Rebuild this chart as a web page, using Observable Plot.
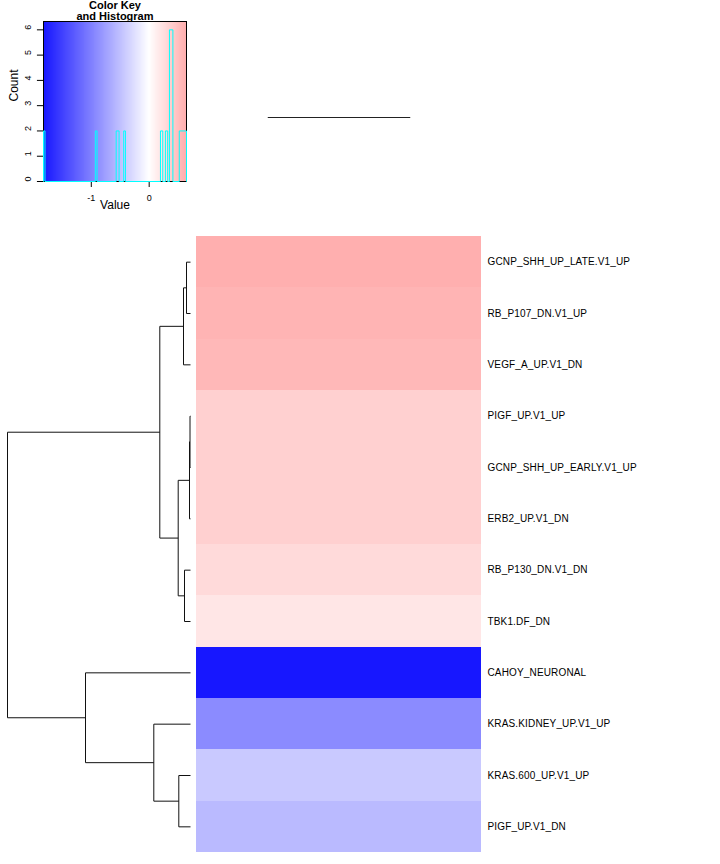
<!DOCTYPE html>
<html><head><meta charset="utf-8">
<script src="https://cdn.jsdelivr.net/npm/d3@7"></script>
<script src="https://cdn.jsdelivr.net/npm/@observablehq/plot@0.6"></script>
<style>
body{margin:0;background:#fff;}
#wrap{position:relative;width:720px;height:864px;overflow:hidden;font-family:"Liberation Sans",Arial,sans-serif;}
#wrap > svg, #wrap > figure{position:absolute;margin:0;}
</style></head><body><div id="wrap"></div>
<script>
// ---- data ----
const rows = ["GCNP_SHH_UP_LATE.V1_UP","RB_P107_DN.V1_UP","VEGF_A_UP.V1_DN","PIGF_UP.V1_UP",
  "GCNP_SHH_UP_EARLY.V1_UP","ERB2_UP.V1_DN","RB_P130_DN.V1_DN","TBK1.DF_DN",
  "CAHOY_NEURONAL","KRAS.KIDNEY_UP.V1_UP","KRAS.600_UP.V1_UP","PIGF_UP.V1_DN"];
const columns = ["1","2"];
const rowValues = [0.63,0.59,0.56,0.37,0.37,0.37,0.29,0.20,-1.82,-0.91,-0.42,-0.54];

// row dendrogram, hclust-style merge table (negative = leaf index, positive = earlier merge)
const mergeLeft   = [-1, 1, -4, 3, -7, 4, 2, -11, -10, -9, 7];
const mergeRight  = [-2, -3, -5, -6, -8, 5, 6, -12, 8, 9, 10];
const mergeHeight = [0.04, 0.07, 0.005, 0.01, 0.06, 0.123, 0.307, 0.117, 0.367, 1.05, 1.83];
// column dendrogram: the two columns merge at height 0
const colMergeHeight = [0];

// colour key + histogram
const keyRange = [-1.826, 0.645];
const histX0 = [-1.826, -0.93, -0.57, -0.44, 0.195, 0.28, 0.35, 0.52];
const histX1 = [-1.80, -0.90, -0.52, -0.41, 0.235, 0.32, 0.41, 0.645];
const histCount = [2, 2, 2, 2, 2, 2, 6, 2];
const countTicks = [0,1,2,3,4,5,6];
const valueTicks = [-1, 0];

const colorOpts = {type: "linear", domain: [-2, 0, 2], range: ["#0000ff", "#ffffff", "#ff0000"], interpolate: "rgb"};
const FONT = '"Liberation Sans", Arial, sans-serif';
const wrap = document.getElementById("wrap");
function place(el, left, top){ el.style.left = left + "px"; el.style.top = top + "px"; wrap.appendChild(el); }

// ---------- colour key ----------
const nSteps = 300;
const stepW = (keyRange[1]-keyRange[0])/nSteps;
const keySteps = d3.range(nSteps).map(i => keyRange[0] + i*stepW);
const histPts = [{x: keyRange[0], c: 0}];
histX0.forEach((x0, i) => {
  histPts.push({x: x0, c: 0}, {x: x0, c: histCount[i]}, {x: histX1[i], c: histCount[i]}, {x: histX1[i], c: 0});
});
histPts.push({x: keyRange[1], c: 0});

const key = Plot.plot({
  width: 200, height: 220,
  marginLeft: 43, marginRight: 14, marginTop: 21, marginBottom: 39,
  style: {fontFamily: FONT, fontSize: "9px", background: "transparent", overflow: "visible"},
  x: {domain: keyRange, ticks: valueTicks, tickFormat: d => String(d), tickSize: 6, tickPadding: 7, label: null},
  y: {domain: [0, 6.33], axis: null},
  color: colorOpts,
  marks: [
    Plot.rect(keySteps, {x1: d => d, x2: d => Math.min(d + stepW*1.05, keyRange[1]), y1: 0, y2: 6.33, fill: d => d, shapeRendering: "crispEdges"}),
    Plot.frame({stroke: "black"}),
    Plot.ruleY(countTicks, {y: d => d, x1: keyRange[0] - 0.105, x2: keyRange[0], stroke: "black"}),
    Plot.text(countTicks, {y: d => d, text: d => String(d), frameAnchor: "left", dx: -15, rotate: -90, fontSize: 9}),
    Plot.line(histPts, {x: "x", y: "c", stroke: "cyan", strokeWidth: 1}),
    Plot.text(["Count"], {frameAnchor: "left", dx: -29, rotate: -90, fontSize: 12}),
    Plot.text(["Value"], {frameAnchor: "bottom", dy: 27, fontSize: 12}),
    Plot.text(["Color Key"], {frameAnchor: "top", lineAnchor: "middle", dy: -16.5, fontSize: 11, fontWeight: "bold"}),
    Plot.text(["and Histogram"], {frameAnchor: "top", lineAnchor: "middle", dy: -5, fontSize: 11, fontWeight: "bold"})
  ]
});
place(key, 0, 0);

// ---------- column dendrogram ----------
const colDend = Plot.plot({
  width: 530, height: 40, marginLeft: 6, marginRight: 239, marginTop: 2, marginBottom: 23,
  style: {background: "transparent"},
  x: {type: "point", domain: columns, padding: 0.5, round: false, axis: null},
  y: {domain: [0, 1], axis: null},
  marks: [
    Plot.link(colMergeHeight, {x1: () => columns[0], x2: () => columns[1], y1: d => d, y2: d => d, stroke: "#222", strokeWidth: 1})
  ]
});
place(colDend, 190, 100);

// ---------- row dendrogram ----------
function nodePos(ref){
  if (ref < 0) return {y: -ref - 0.5, h: 0};
  const l = nodePos(mergeLeft[ref-1]), r = nodePos(mergeRight[ref-1]);
  return {y: (l.y + r.y)/2, h: mergeHeight[ref-1]};
}
const segs = [];
mergeHeight.forEach((h, i) => {
  const l = nodePos(mergeLeft[i]), r = nodePos(mergeRight[i]);
  segs.push({x1: h, y1: l.y, x2: h, y2: r.y});
  segs.push({x1: h, y1: l.y, x2: l.h, y2: l.y});
  segs.push({x1: h, y1: r.y, x2: r.h, y2: r.y});
});
const rowDend = Plot.plot({
  width: 196, height: 634, marginLeft: 7, marginRight: 6, marginTop: 6, marginBottom: 12,
  style: {background: "transparent"},
  x: {domain: [d3.max(mergeHeight), 0], axis: null},
  y: {domain: [0, rows.length], reverse: true, axis: null},
  marks: [
    Plot.link(segs, {x1: "x1", y1: "y1", x2: "x2", y2: "y2", stroke: "#111", strokeWidth: 1})
  ]
});
place(rowDend, 0, 230);

// ---------- heatmap ----------
const cells = [];
rows.forEach((r, i) => columns.forEach(c => cells.push({row: r, col: c, value: rowValues[i]})));
const heat = Plot.plot({
  width: 530, height: 634, marginLeft: 6, marginRight: 239, marginTop: 6, marginBottom: 12,
  style: {fontFamily: FONT, fontSize: "10px", letterSpacing: "0.15px", background: "transparent"},
  x: {type: "band", domain: columns, padding: 0, round: false, axis: null},
  y: {type: "band", domain: rows, padding: 0, round: false, axis: "right", tickSize: 0, tickPadding: 6, label: null},
  color: colorOpts,
  marks: [
    Plot.cell(cells, {x: "col", y: "row", fill: "value", inset: 0, shapeRendering: "crispEdges"})
  ]
});
place(heat, 190, 230);
</script></body></html>
